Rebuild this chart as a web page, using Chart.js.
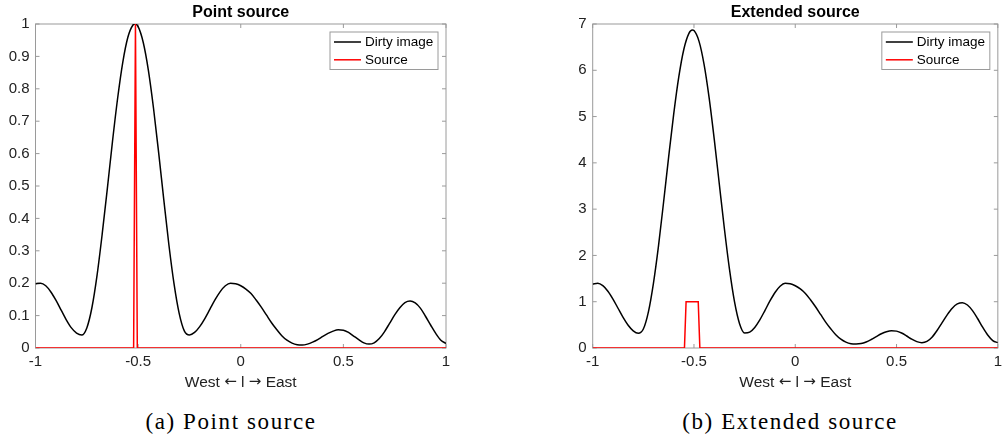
<!DOCTYPE html>
<html>
<head>
<meta charset="utf-8">
<script src="https://cdn.jsdelivr.net/npm/chart.js@4.4.1/dist/chart.umd.min.js"></script>
<style>
  body { margin: 0; background: #fff; width: 1007px; height: 436px; position: relative; overflow: hidden; }
  .box { position: absolute; top: 0; height: 400px; }
  #boxA { left: 0; width: 470px; }
  #boxB { left: 557px; width: 450px; }
  .cap { position: absolute; top: 409px; line-height: 26px; font-family: 'Liberation Serif', 'Times New Roman', serif;
         font-size: 23px; letter-spacing: 1.6px; white-space: nowrap; transform: translateX(-50%); color: #000; }
</style>
</head>
<body>
<div class="box" id="boxA"><canvas id="chartA"></canvas></div>
<div class="box" id="boxB"><canvas id="chartB"></canvas></div>
<div class="cap" id="capA" style="left:231px"></div>
<div class="cap" id="capB" style="left:790px"></div>
<script>
// ---- data ----
const titles = ['Point source', 'Extended source'];
const captions = ['(a) Point source', '(b) Extended source'];
const seriesNames = ['Dirty image', 'Source'];
const seriesColors = ['#000000', '#ff0000'];
const xLabelParts = ['West ', '\u2190', ' l ', '\u2192', ' East'];
const xTicks = [-1, -0.5, 0, 0.5, 1];
const yTicksA = [0, 0.1, 0.2, 0.3, 0.4, 0.5, 0.6, 0.7, 0.8, 0.9, 1];
const yTicksB = [0, 1, 2, 3, 4, 5, 6, 7];

// (a) point source
const xDirtyA = [-1, -0.975, -0.95, -0.925, -0.9, -0.875, -0.85, -0.825, -0.8, -0.775, -0.75, -0.725, -0.7, -0.675, -0.65,
  -0.625, -0.6, -0.575, -0.55, -0.525, -0.515, -0.5, -0.475, -0.45, -0.425, -0.4, -0.375, -0.35, -0.325, -0.3, -0.275,
  -0.25, -0.225, -0.2, -0.175, -0.15, -0.125, -0.1, -0.075, -0.05, -0.025, 0, 0.025, 0.05, 0.075, 0.1, 0.125, 0.15,
  0.175, 0.2, 0.225, 0.25, 0.275, 0.3, 0.325, 0.35, 0.375, 0.4, 0.425, 0.45, 0.475, 0.5, 0.525, 0.55, 0.575, 0.6,
  0.625, 0.65, 0.675, 0.7, 0.725, 0.75, 0.775, 0.8, 0.825, 0.85, 0.875, 0.9, 0.925, 0.95, 0.975, 1];
const yDirtyA = [0.198, 0.2, 0.192, 0.173, 0.147, 0.117, 0.087, 0.062, 0.046, 0.04, 0.062, 0.125, 0.225, 0.352, 0.492,
  0.637, 0.77, 0.881, 0.959, 0.997, 1.0, 0.992, 0.943, 0.857, 0.74, 0.603, 0.458, 0.318, 0.198, 0.107, 0.053,
  0.04, 0.048, 0.066, 0.091, 0.12, 0.149, 0.174, 0.192, 0.2, 0.198, 0.192, 0.182, 0.168, 0.148, 0.126, 0.102, 0.078,
  0.057, 0.038, 0.024, 0.015, 0.01, 0.009, 0.012, 0.018, 0.026, 0.036, 0.045, 0.052, 0.056, 0.055, 0.048, 0.037, 0.026, 0.016,
  0.012, 0.016, 0.029, 0.05, 0.076, 0.102, 0.124, 0.14, 0.145, 0.139, 0.123, 0.098, 0.071, 0.045, 0.024, 0.014];
const xSourceA = [-1, -0.522, -0.513, -0.504, 1];
const ySourceA = [0, 0, 1, 0, 0];

// (b) extended source
const xDirtyB = [-1, -0.975, -0.95, -0.925, -0.9, -0.875, -0.85, -0.825, -0.8, -0.775, -0.75, -0.725, -0.7, -0.675, -0.65,
  -0.625, -0.6, -0.575, -0.55, -0.525, -0.508, -0.5, -0.475, -0.45, -0.425, -0.4, -0.375, -0.35, -0.325, -0.3, -0.275,
  -0.25, -0.225, -0.2, -0.175, -0.15, -0.125, -0.1, -0.075, -0.05, -0.025, 0, 0.025, 0.05, 0.075, 0.1, 0.125, 0.15,
  0.175, 0.2, 0.225, 0.25, 0.275, 0.3, 0.325, 0.35, 0.375, 0.4, 0.425, 0.45, 0.475, 0.5, 0.525, 0.55, 0.575, 0.6,
  0.625, 0.65, 0.675, 0.7, 0.725, 0.75, 0.775, 0.8, 0.825, 0.85, 0.875, 0.9, 0.925, 0.95, 0.975, 1];
const yDirtyB = [1.38, 1.398, 1.346, 1.227, 1.057, 0.859, 0.66, 0.49, 0.37, 0.318, 0.41, 0.782, 1.404, 2.212, 3.154,
  4.129, 5.059, 5.858, 6.455, 6.799, 6.87, 6.857, 6.625, 6.124, 5.399, 4.512, 3.544, 2.581, 1.709, 1.002, 0.526,
  0.323, 0.343, 0.445, 0.608, 0.808, 1.017, 1.2, 1.335, 1.397, 1.387, 1.345, 1.277, 1.179, 1.043, 0.891, 0.726, 0.56,
  0.416, 0.286, 0.19, 0.127, 0.093, 0.086, 0.095, 0.13, 0.184, 0.247, 0.307, 0.352, 0.374, 0.365, 0.323, 0.259, 0.191, 0.138,
  0.115, 0.142, 0.234, 0.378, 0.548, 0.717, 0.861, 0.953, 0.98, 0.929, 0.807, 0.637, 0.449, 0.281, 0.16, 0.115];
const xSourceB = [-1, -0.547, -0.539, -0.479, -0.471, 1];
const ySourceB = [0, 0, 1, 1, 0, 0];

const FONT = "'Liberation Sans', Arial, Helvetica, sans-serif";
const ARROW_FONT = "'DejaVu Sans', sans-serif";

function pts(xs, ys) {
    return xs.map((x, i) => ({ x: x, y: ys[i] }));
}

// frame, inward ticks on all sides, title, x label and boxed legend (MATLAB look)
const matlabAxes = {
    id: 'matlabAxes',
    beforeDatasetsDraw(chart, args, o) {
        const { ctx, chartArea: a, scales } = chart;
        const t = o.tickLen;
        ctx.save();
        ctx.strokeStyle = o.frameColor;
        ctx.lineWidth = 1;
        ctx.strokeRect(a.left, a.top, a.right - a.left, a.bottom - a.top);
        ctx.beginPath();
        scales.x.ticks.forEach(tk => {
            const px = scales.x.getPixelForValue(tk.value);
            ctx.moveTo(px, a.bottom); ctx.lineTo(px, a.bottom - t);
            ctx.moveTo(px, a.top); ctx.lineTo(px, a.top + t);
        });
        scales.y.ticks.forEach(tk => {
            const py = scales.y.getPixelForValue(tk.value);
            ctx.moveTo(a.left, py); ctx.lineTo(a.left + t, py);
            ctx.moveTo(a.right, py); ctx.lineTo(a.right - t, py);
        });
        ctx.stroke();
        ctx.restore();
    },
    afterDraw(chart, args, o) {
        const { ctx, chartArea: a } = chart;
        const cx = (a.left + a.right) / 2;
        ctx.save();
        // title
        ctx.fillStyle = '#000';
        ctx.font = 'bold 16px ' + FONT;
        ctx.textAlign = 'center';
        ctx.textBaseline = 'middle';
        ctx.fillText(o.title, cx, 12.5);

        // x label, arrows from a font with longer arrow glyphs
        ctx.textAlign = 'left';
        ctx.fillStyle = '#222';
        const fonts = xLabelParts.map((p, i) => (i % 2 ? '15px ' + ARROW_FONT : '15.5px ' + FONT));
        const widths = xLabelParts.map((p, i) => { ctx.font = fonts[i]; return ctx.measureText(p).width; });
        let lx = cx - widths.reduce((s, w) => s + w, 0) / 2;
        xLabelParts.forEach((p, i) => {
            ctx.font = fonts[i];
            ctx.fillText(p, lx, 382.5);
            lx += widths[i];
        });

        // legend
        const w = 108, h = 37.5;
        const bx = a.right - 8 - w, by = a.top + 8;
        ctx.fillStyle = '#fff';
        ctx.fillRect(bx, by, w, h);
        ctx.strokeStyle = o.frameColor;
        ctx.lineWidth = 1;
        ctx.strokeRect(bx, by, w, h);
        ctx.font = '13.5px ' + FONT;
        chart.data.datasets.forEach((ds, i) => {
            const ry = by + 10 + i * 17.8;
            ctx.strokeStyle = ds.borderColor;
            ctx.lineWidth = 1.5;
            ctx.beginPath();
            ctx.moveTo(bx + 4, ry);
            ctx.lineTo(bx + 31, ry);
            ctx.stroke();
            ctx.fillStyle = '#000';
            ctx.fillText(ds.label, bx + 35, ry + 0.5);
        });
        ctx.restore();
    }
};

function makeChart(id, dirty, source, yTicks, yMax, yWidth, padRight, title) {
    const ctx = document.getElementById(id).getContext('2d');
    return new Chart(ctx, {
        type: 'line',
        data: {
            datasets: [{
                label: seriesNames[0],
                data: dirty,
                borderColor: seriesColors[0],
                borderWidth: 1.5,
                pointRadius: 0,
                cubicInterpolationMode: 'monotone',
                order: 1
            }, {
                label: seriesNames[1],
                data: source,
                borderColor: seriesColors[1],
                borderWidth: 1.5,
                pointRadius: 0,
                tension: 0,
                order: 0
            }]
        },
        options: {
            animation: false,
            responsive: true,
            maintainAspectRatio: false,
            layout: { padding: { left: 0, right: padRight, top: 24, bottom: 0 } },
            plugins: {
                legend: { display: false },
                title: { display: false },
                tooltip: { enabled: false },
                matlabAxes: { title: title, frameColor: '#9a9a9a', tickLen: 4 }
            },
            scales: {
                x: {
                    type: 'linear',
                    min: -1, max: 1,
                    afterBuildTicks: s => { s.ticks = xTicks.map(v => ({ value: v })); },
                    afterFit: s => { s.height = 52; },
                    grid: { display: false, drawTicks: false },
                    border: { display: false },
                    ticks: { padding: 5, color: '#222', font: { family: FONT, size: 15 }, callback: v => String(v), maxRotation: 0 }
                },
                y: {
                    min: 0, max: yMax,
                    afterBuildTicks: s => { s.ticks = yTicks.map(v => ({ value: v })); },
                    afterFit: s => { s.width = yWidth; },
                    grid: { display: false, drawTicks: false },
                    border: { display: false },
                    ticks: { padding: 6, color: '#222', font: { family: FONT, size: 15 }, callback: v => String(v) }
                }
            }
        },
        plugins: [matlabAxes]
    });
}

makeChart('chartA', pts(xDirtyA, yDirtyA), pts(xSourceA, ySourceA), yTicksA, 1, 35.5, 24, titles[0]);
makeChart('chartB', pts(xDirtyB, yDirtyB), pts(xSourceB, ySourceB), yTicksB, 7, 35.7, 2, titles[1]);

document.getElementById('capA').textContent = captions[0];
document.getElementById('capB').textContent = captions[1];
</script>
</body>
</html>
